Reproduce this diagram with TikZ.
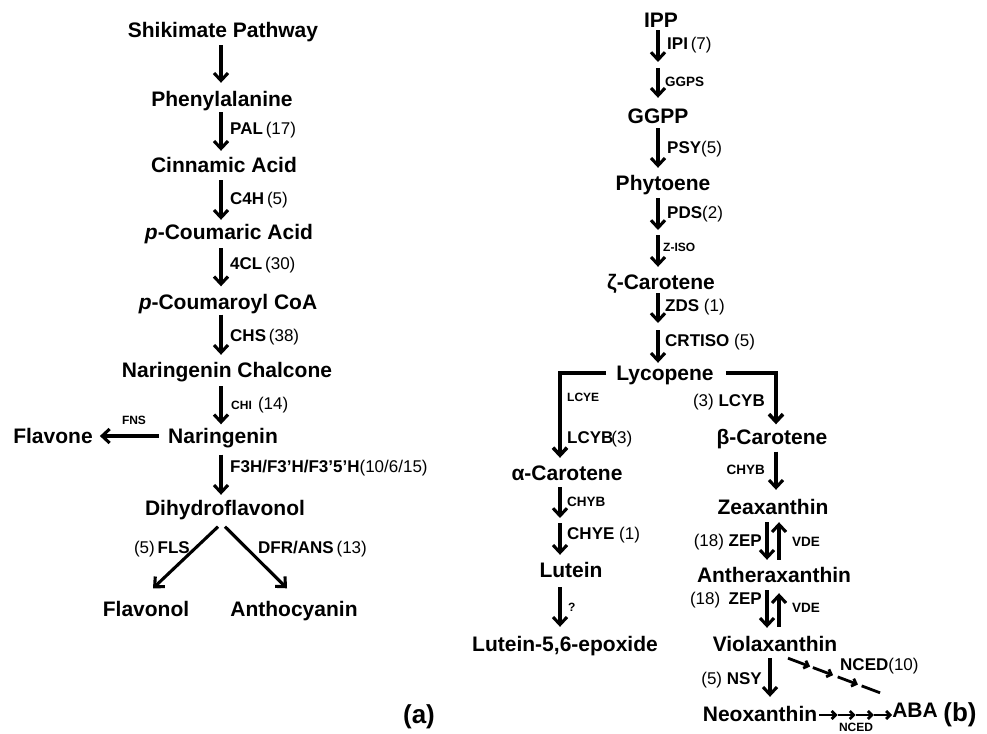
\documentclass[tikz,border=0pt]{standalone}
\usepackage{fontspec}
\setmainfont{Liberation Sans}
\usetikzlibrary{arrows.meta,calc}
\tikzset{
 mol/.style={font=\fontsize{21}{21}\selectfont\bfseries, inner sep=0pt, text height=15pt, text depth=0pt, anchor=center},
 enz/.style={font=\fontsize{17}{17}\selectfont\bfseries, inner sep=0pt, text height=12.2pt, text depth=0pt, anchor=west},
 enzs/.style={font=\fontsize{12}{12}\selectfont\bfseries, inner sep=0pt, text height=8.6pt, text depth=0pt, anchor=west},
 enzm/.style={font=\fontsize{13.5}{13.5}\selectfont\bfseries, inner sep=0pt, text height=9.7pt, text depth=0pt, anchor=west},
 arr/.style={line width=3.1pt, -{Straight Barb[length=7.5pt,width=14pt]}},
 sarr/.style={line width=2.8pt, -{Straight Barb[length=4pt,width=8pt]}},
 panel/.style={font=\fontsize{26}{26}\selectfont\bfseries, inner sep=0pt, text height=18.6pt, text depth=0pt},
}
\newcommand{\nm}[1]{{\mdseries #1}}
\begin{document}
\begin{tikzpicture}[x=1pt,y=-1pt]
\fill[white] (0,0) rectangle (987,733);
\useasboundingbox (0,0) rectangle (987,733);
% ---------- panel (a)
\coordinate (ca) at (221,0);
\node[mol] (shik) at (223,30) {Shikimate Pathway};
\node[mol] (phen) at (222,99) {Phenylalanine};
\node[mol] (cinn) at (224,165) {Cinnamic Acid};
\node[mol] (pcac) at (229,232) {\textit{p}-Coumaric Acid};
\node[mol] (pcoa) at (228,302) {\textit{p}-Coumaroyl CoA};
\node[mol] (nchal) at (227,369.5) {Naringenin Chalcone};
\node[mol] (nar) at (223,436) {Naringenin};
\node[mol] (flavone) at (53,436) {Flavone};
\node[mol] (dihy) at (225,508) {Dihydroflavonol};
\node[mol] (flavonol) at (146,609) {Flavonol};
\node[mol] (antho) at (294,609) {Anthocyanin};
\node[panel] (pa) at (419,714) {(a)};

\draw[arr, shorten <=7.5pt, shorten >=8.5pt] (shik.south -| ca) -- (phen.north -| ca);
\draw[arr, shorten <=5.5pt, shorten >=6.5pt] (phen.south -| ca) -- (cinn.north -| ca);
\draw[arr, shorten <=7.5pt, shorten >=4.5pt] (cinn.south -| ca) -- (pcac.north -| ca);
\draw[arr, shorten <=8.5pt, shorten >=8pt] (pcac.south -| ca) -- (pcoa.north -| ca);
\draw[arr, shorten <=5pt, shorten >=7pt] (pcoa.south -| ca) -- (nchal.north -| ca);
\draw[arr, shorten <=9pt, shorten >=4pt] (nchal.south -| ca) -- (nar.north -| ca);
\draw[arr, shorten <=11pt, shorten >=5.5pt] (nar.south -| ca) -- (dihy.north -| ca);
\draw[arr, shorten <=9pt, shorten >=7pt] (nar.west) -- (flavone.east);
\draw[arr] ($(dihy.south)+(-7,11)$) -- ($(flavonol.north)+(7,-13)$);
\draw[arr] ($(dihy.south)+(0,11)$) -- ($(antho.north)+(-7,-13)$);

\node[enz] (pal) at (230,128) {PAL\nm{\,(17)}};
\node[enz] (c4h) at (230,198) {C4H\nm{\,(5)}};
\node[enz] (fcl) at (230,263) {4CL\nm{\,(30)}};
\node[enz] (chs) at (230,335) {CHS\nm{\,(38)}};
\node[enzs] (chi) at (231,405) {CHI \nm{\fontsize{17}{17}\selectfont\,(14)}};
\node[enz] (f3h) at (230,466) {F3H/F3’H/F3’5’H\nm{(10/6/15)}};
\node[enzs, anchor=center] (fns) at (134,420) {FNS};
\node[enz, anchor=east] (fls) at (190,547) {\nm{(5)\,}FLS};
\node[enz] (dfr) at (258,547) {DFR/ANS\nm{\,(13)}};

% ---------- panel (b)
\coordinate (cb) at (658,0);
\node[mol] (ipp) at (661,20) {IPP};
\coordinate (m1) at (658,65);
\node[mol] (ggpp) at (658,116) {GGPP};
\node[mol] (phyt) at (663,182.5) {Phytoene};
\coordinate (m2) at (658,232.5);
\node[mol] (zeta) at (661,281.5) {ζ-Carotene};
\coordinate (m3) at (658,326.5);
\node[mol] (lyco) at (665,373) {Lycopene};

\draw[arr, shorten <=2.5pt, shorten >=3pt] (ipp.south -| cb) -- (m1);
\draw[arr, shorten <=3pt, shorten >=10.5pt] (m1) -- (ggpp.north -| cb);
\draw[arr, shorten <=4.5pt, shorten >=7pt] (ggpp.south -| cb) -- (phyt.north -| cb);
\draw[arr, shorten <=8pt, shorten >=2.5pt] (phyt.south -| cb) -- (m2);
\draw[arr, shorten <=2.5pt, shorten >=7pt] (m2) -- (zeta.north -| cb);
\draw[arr, shorten <=4pt, shorten >=3.5pt] (zeta.south -| cb) -- (m3);
\draw[arr, shorten <=3.5pt, shorten >=2.5pt] (m3) -- (lyco.north -| cb);

\node[enz] (ipi) at (667,43) {IPI\nm{\,(7)}};
\node[enzm] (ggps) at (665,82) {GGPS};
\node[enz] (psy) at (667,147) {PSY\nm{(5)}};
\node[enz] (pds) at (667,212) {PDS\nm{(2)}};
\node[enzs] (ziso) at (663,247) {Z-ISO};
\node[enz] (zds) at (665,305) {ZDS \nm{(1)}};
\node[enz] (crt) at (665,340) {CRTISO \nm{(5)}};

% left branch
\coordinate (cl) at (560,0);
\node[mol] (alpha) at (567,472.5) {α-Carotene};
\node[mol] (lut) at (571,570) {Lutein};
\node[mol] (epox) at (565,643.5) {Lutein-5,6-epoxide};
\coordinate (m4) at (560,520.5);
\draw[arr, line width=3.6pt, shorten <=10pt, shorten >=7pt] (lyco.west) -| (alpha.north -| cl);
\draw[arr, shorten <=7pt, shorten >=2.5pt] (alpha.south -| cl) -- (m4);
\draw[arr, shorten <=2.5pt, shorten >=7.5pt] (m4) -- (lut.north -| cl);
\draw[arr, shorten <=9.5pt, shorten >=9pt] (lut.south -| cl) -- (epox.north -| cl);
\node[enzs] (lcye) at (567,397) {LCYE};
\node[enz] (lcyb1) at (567,437) {LCYB\nm{\kern-2pt(3)}};
\node[enzm] (chyb1) at (567,502) {CHYB};
\node[enz] (chye) at (567,533) {CHYE \nm{(1)}};
\node[enzs] (q) at (568,607) {?};

% right branch
\coordinate (cr) at (776,0);
\node[mol] (beta) at (772,436.5) {β-Carotene};
\node[mol] (zeax) at (773,507) {Zeaxanthin};
\node[mol] (anth) at (774,574.5) {Antheraxanthin};
\node[mol] (viola) at (775,643.5) {Violaxanthin};
\node[mol] (neox) at (760,714) {Neoxanthin};
\node[mol] (aba) at (915,710) {ABA};
\node[panel] (pb) at (960,712) {(b)};

\draw[arr, line width=3.6pt, shorten <=12pt, shorten >=4.5pt] (lyco.east) -| (beta.north -| cr);
\draw[arr, shorten <=7.5pt, shorten >=9.5pt] (beta.south -| cr) -- (zeax.north -| cr);
\coordinate (dd) at (767,0);
\coordinate (du) at (779,0);
\draw[arr, shorten <=7.5pt, shorten >=7pt] (zeax.south -| dd) -- (anth.north -| dd);
\draw[arr, shorten <=7pt, shorten >=7.5pt] (anth.north -| du) -- (zeax.south -| du);
\draw[arr, shorten <=8pt, shorten >=8pt] (anth.south -| dd) -- (viola.north -| dd);
\draw[arr, shorten <=9pt, shorten >=11pt] (viola.north -| du) -- (anth.south -| du);
\coordinate (cn) at (770,0);
\draw[arr, shorten <=7pt, shorten >=9.5pt] (viola.south -| cn) -- (neox.north -| cn);

\node[enz, anchor=east] (lcyb2) at (765,400) {\nm{(3)} LCYB};
\node[enzm, anchor=east] (chyb2) at (765,470) {CHYB};
\node[enz, anchor=east] (zep1) at (762,540) {\nm{(18)} ZEP};
\node[enzm] (vde1) at (792,542) {VDE};
\node[enz, anchor=east] (zep2) at (762,598) {\nm{(18)}\enspace ZEP};
\node[enzm] (vde2) at (792,608) {VDE};
\node[enz, anchor=east] (nsy) at (762,678) {\nm{(5)} NSY};
\node[enz] (nced1) at (840,664) {NCED\nm{(10)}};
\node[enzs, anchor=center] (nced2) at (856,727.5) {NCED};

\coordinate (d1) at ($(viola.south)+(13,7)$);
\coordinate (d2) at ($(aba.north west)+(-12,-9.5)$);
\draw[sarr] (d1) -- ($(d1)!0.24!(d2)$);
\draw[sarr] ($(d1)!0.27!(d2)$) -- ($(d1)!0.49!(d2)$);
\draw[sarr] ($(d1)!0.54!(d2)$) -- ($(d1)!0.76!(d2)$);
\draw[line width=2.8pt] ($(d1)!0.80!(d2)$) -- (d2);

\coordinate (n1) at ($(neox.east)+(2,1)$);
\coordinate (n2) at ($(aba.west |- neox.east)+(0,1)$);
\draw[sarr] (n1) -- ($(n1)!0.25!(n2)$);
\draw[sarr] ($(n1)!0.25!(n2)$) -- ($(n1)!0.5!(n2)$);
\draw[sarr] ($(n1)!0.5!(n2)$) -- ($(n1)!0.75!(n2)$);
\draw[sarr] ($(n1)!0.75!(n2)$) -- (n2);
\end{tikzpicture}
\end{document}
